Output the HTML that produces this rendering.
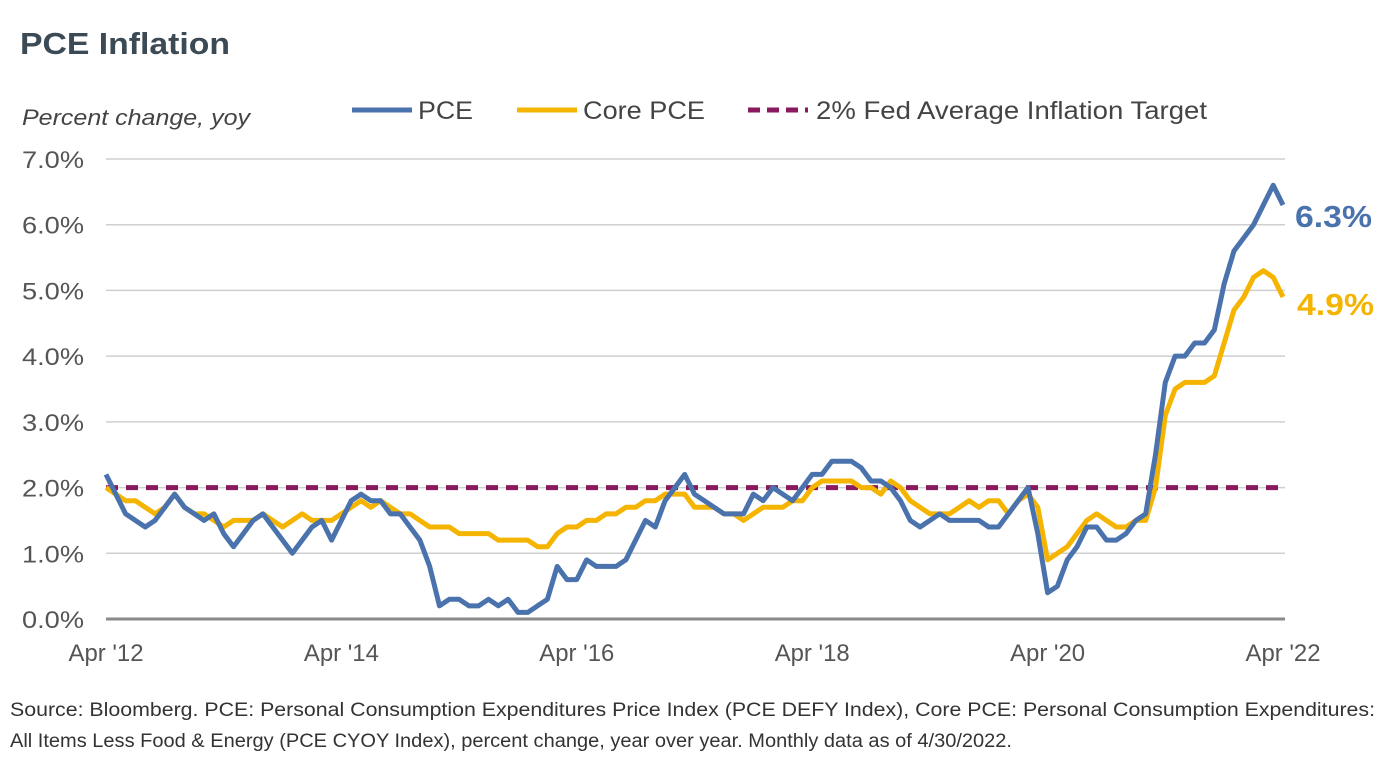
<!DOCTYPE html>
<html><head><meta charset="utf-8"><style>
body{margin:0;background:#fff;font-family:"Liberation Sans",sans-serif;}
svg{display:block}
</style></head><body>
<svg width="1392" height="770" viewBox="0 0 1392 770">
<text x="20" y="54" font-size="31" font-weight="bold" fill="#3b4a55" textLength="210" lengthAdjust="spacingAndGlyphs">PCE Inflation</text>
<text x="22" y="125" font-size="22" font-style="italic" fill="#444" textLength="228" lengthAdjust="spacingAndGlyphs">Percent change, yoy</text>
<g>
<g><line x1="352" y1="110" x2="412" y2="110" stroke="#4a72ad" stroke-width="5"/><text x="418" y="119" font-size="25" fill="#444" textLength="55" lengthAdjust="spacingAndGlyphs">PCE</text></g>
<g><line x1="517" y1="110" x2="577" y2="110" stroke="#f5b400" stroke-width="5"/><text x="583" y="119" font-size="25" fill="#444" textLength="122" lengthAdjust="spacingAndGlyphs">Core PCE</text></g>
<g><line x1="748" y1="110" x2="808" y2="110" stroke="#8a1a5e" stroke-width="5" stroke-dasharray="12,7"/><text x="816" y="119" font-size="25" fill="#444" textLength="391" lengthAdjust="spacingAndGlyphs">2% Fed Average Inflation Target</text></g>
</g>
<g id="grid"></g><g id="ylabels"></g><g id="xlabels"></g><g id="series"></g>
<text x="1295" y="227" font-size="31" font-weight="bold" fill="#4a72ad" textLength="77" lengthAdjust="spacingAndGlyphs">6.3%</text>
<text x="1297" y="315" font-size="31" font-weight="bold" fill="#f5b400" textLength="77" lengthAdjust="spacingAndGlyphs">4.9%</text>
<text x="10" y="716" font-size="19" fill="#333" textLength="1365" lengthAdjust="spacingAndGlyphs">Source: Bloomberg. PCE: Personal Consumption Expenditures Price Index (PCE DEFY Index), Core PCE: Personal Consumption Expenditures:</text>
<text x="10" y="747" font-size="19" fill="#333" textLength="1002" lengthAdjust="spacingAndGlyphs">All Items Less Food &amp; Energy (PCE CYOY Index), percent change, year over year.  Monthly data as of 4/30/2022.</text>
</svg>
<script>
const yTicks=[0,1,2,3,4,5,6,7];
const yTickLabels=["0.0%","1.0%","2.0%","3.0%","4.0%","5.0%","6.0%","7.0%"];
const xTickIdx=[0,24,48,72,96,120];
const xTickLabels=["Apr '12","Apr '14","Apr '16","Apr '18","Apr '20","Apr '22"];
const pce=[2.2,1.9,1.6,1.5,1.4,1.5,1.7,1.9,1.7,1.6,1.5,1.6,
1.3,1.1,1.3,1.5,1.6,1.4,1.2,1.0,1.2,1.4,1.5,1.2,
1.5,1.8,1.9,1.8,1.8,1.6,1.6,1.4,1.2,0.8,0.2,0.3,
0.3,0.2,0.2,0.3,0.2,0.3,0.1,0.1,0.2,0.3,0.8,0.6,
0.6,0.9,0.8,0.8,0.8,0.9,1.2,1.5,1.4,1.8,2.0,2.2,
1.9,1.8,1.7,1.6,1.6,1.6,1.9,1.8,2.0,1.9,1.8,2.0,
2.2,2.2,2.4,2.4,2.4,2.3,2.1,2.1,2.0,1.8,1.5,1.4,
1.5,1.6,1.5,1.5,1.5,1.5,1.4,1.4,1.6,1.8,2.0,1.3,
0.4,0.5,0.9,1.1,1.4,1.4,1.2,1.2,1.3,1.5,1.6,2.5,
3.6,4.0,4.0,4.2,4.2,4.4,5.1,5.6,5.8,6.0,6.3,6.6,6.3];
const corePce=[2.0,1.9,1.8,1.8,1.7,1.6,1.7,1.9,1.7,1.6,1.6,1.5,
1.4,1.5,1.5,1.5,1.6,1.5,1.4,1.5,1.6,1.5,1.5,1.5,
1.6,1.7,1.8,1.7,1.8,1.7,1.6,1.6,1.5,1.4,1.4,1.4,
1.3,1.3,1.3,1.3,1.2,1.2,1.2,1.2,1.1,1.1,1.3,1.4,
1.4,1.5,1.5,1.6,1.6,1.7,1.7,1.8,1.8,1.9,1.9,1.9,
1.7,1.7,1.7,1.6,1.6,1.5,1.6,1.7,1.7,1.7,1.8,1.8,
2.0,2.1,2.1,2.1,2.1,2.0,2.0,1.9,2.1,2.0,1.8,1.7,
1.6,1.6,1.6,1.7,1.8,1.7,1.8,1.8,1.6,1.8,1.9,1.7,
0.9,1.0,1.1,1.3,1.5,1.6,1.5,1.4,1.4,1.5,1.5,2.0,
3.1,3.5,3.6,3.6,3.6,3.7,4.2,4.7,4.9,5.2,5.3,5.2,4.9];
const target=[2.0];
const NS="http://www.w3.org/2000/svg";
const X0=106,X1=1283,Y0=619,Y7=159;
const xs=i=>X0+(X1-X0)*i/120;
const ys=v=>Y0+(Y7-Y0)*v/7;
function mk(tag,attrs,parent){const e=document.createElementNS(NS,tag);for(const k in attrs)e.setAttribute(k,attrs[k]);document.getElementById(parent).appendChild(e);return e;}
yTicks.forEach((t,k)=>{
 const g=mk('line',{x1:X0,x2:1285,y1:ys(t),y2:ys(t),stroke:t===0?'#8a8a8a':'#cfcfcf','stroke-width':t===0?3:1.5},'grid');
 
 
 const l=mk('text',{x:84,y:ys(t)+9,'text-anchor':'end','font-size':24,fill:'#555',textLength:62,lengthAdjust:'spacingAndGlyphs'},'ylabels');
 l.textContent=yTickLabels[k];
 
 
});
xTickIdx.forEach((i,k)=>{
 const l=mk('text',{x:xs(i),y:661,'text-anchor':'middle','font-size':24,fill:'#555',textLength:75,lengthAdjust:'spacingAndGlyphs'},'xlabels');
 l.textContent=xTickLabels[k];
 
 
});
const tl=mk('line',{x1:xs(0),x2:xs(120),y1:ys(target[0]),y2:ys(target[0]),stroke:'#8a1a5e','stroke-width':5,'stroke-dasharray':'12,8'},'series');


const cp=mk('polyline',{points:corePce.map((v,i)=>xs(i)+','+ys(v)).join(' '),fill:'none',stroke:'#f5b400','stroke-width':5,'stroke-linejoin':'round'},'series');


const pp=mk('polyline',{points:pce.map((v,i)=>xs(i)+','+ys(v)).join(' '),fill:'none',stroke:'#4a72ad','stroke-width':5,'stroke-linejoin':'round'},'series');


</script>
</body></html>
